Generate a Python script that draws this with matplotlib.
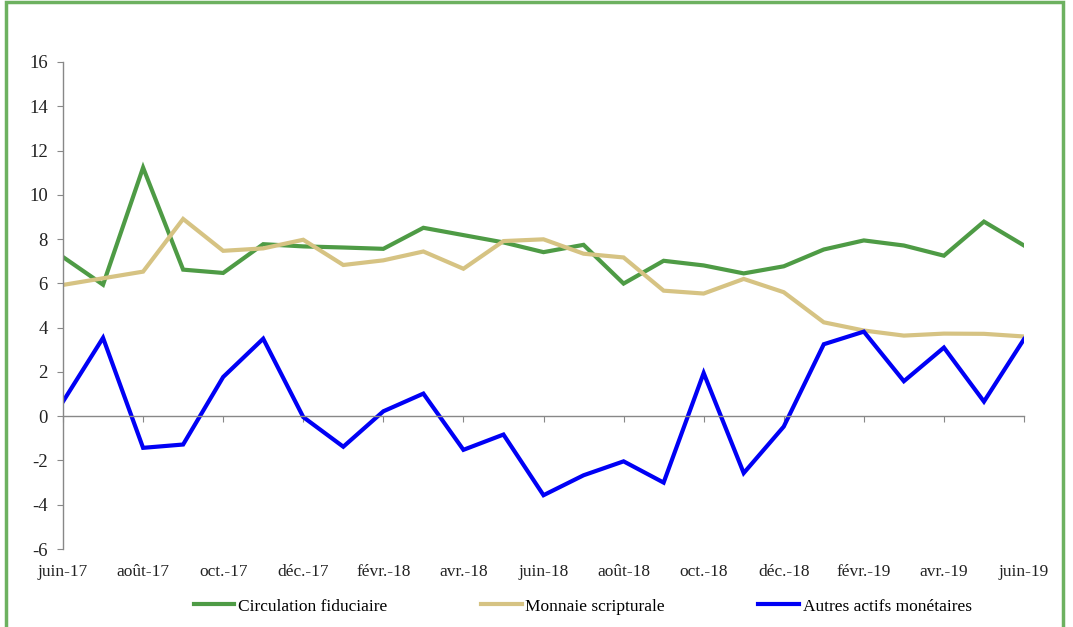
import matplotlib
matplotlib.use("Agg")
import matplotlib.pyplot as plt
import matplotlib.patches as mpatches
import matplotlib.transforms as mtransforms
import numpy as np

# Monthly data, juin-17 .. juin-19 (year-on-year growth, %)
months = ["juin-17", "juil.-17", "août-17", "sept.-17", "oct.-17", "nov.-17",
          "déc.-17", "janv.-18", "févr.-18", "mars-18", "avr.-18", "mai-18",
          "juin-18", "juil.-18", "août-18", "sept.-18", "oct.-18", "nov.-18",
          "déc.-18", "janv.-19", "févr.-19", "mars-19", "avr.-19", "mai-19",
          "juin-19"]
circulation = [7.19, 5.94, 11.23, 6.62, 6.47, 7.77, 7.67, 7.62, 7.56, 8.51,
               8.18, 7.85, 7.41, 7.74, 5.99, 7.02, 6.81, 6.45, 6.77, 7.53,
               7.94, 7.71, 7.25, 8.79, 7.71]
scripturale = [5.93, 6.23, 6.53, 8.91, 7.47, 7.58, 7.97, 6.83, 7.04, 7.44,
               6.66, 7.91, 7.99, 7.34, 7.17, 5.67, 5.54, 6.20, 5.60, 4.24,
               3.87, 3.64, 3.73, 3.72, 3.60]
autres = [0.66, 3.54, -1.43, -1.28, 1.77, 3.50, -0.04, -1.38, 0.22, 1.02,
          -1.52, -0.83, -3.57, -2.67, -2.04, -3.00, 1.95, -2.57, -0.47, 3.25,
          3.82, 1.58, 3.10, 0.66, 3.48]
yticks = list(range(-6, 17, 2))

plt.rcParams['font.family'] = ['Liberation Serif', 'DejaVu Serif']

fig = plt.figure(figsize=(10.73, 6.27), dpi=100)
ax = fig.add_axes([63 / 1073, 1 - 549 / 627, (1024 - 63) / 1073, (549 - 62) / 627])

x = np.arange(len(months))
ax.plot(x, circulation, color="#4E9B45", lw=3, label="Circulation fiduciaire", solid_joinstyle="miter")
ax.plot(x, scripturale, color="#D6C383", lw=3, label="Monnaie scripturale", solid_joinstyle="miter")
ax.plot(x, autres, color="#0000F5", lw=3, label="Autres actifs monétaires", solid_joinstyle="miter")

ax.set_xlim(0, len(months) - 1)
ax.set_ylim(-6, 16)
ax.set_yticks(yticks)
ax.set_yticklabels([str(v) for v in yticks])

# axis look: left spine + zero line with month ticks
for s in ["top", "right"]:
    ax.spines[s].set_visible(False)
ax.spines["left"].set_color("#888888")
ax.spines["bottom"].set_color("#888888")
ax.spines["bottom"].set_position(("data", 0))
ax.spines["left"].set_linewidth(1)
ax.spines["bottom"].set_linewidth(1)
ax.set_xticks(x[::2])
ax.tick_params(axis="x", direction="out", length=4, color="#888888", labelbottom=False)
ax.tick_params(axis="y", direction="out", length=4, color="#888888", labelsize=13.5, pad=7,
               labelcolor="#222222")

# month labels at the bottom of the plot area
trans = mtransforms.blended_transform_factory(ax.transData, ax.transAxes)
for i in x[::2]:
    ax.text(i, -0.03, months[i], transform=trans, ha="center", va="top",
            fontsize=12.5, color="#222222")

fig.legend(loc="lower center", bbox_to_anchor=(0.543, -0.005), ncol=3, frameon=False,
           fontsize=12.5, handlelength=2.35, handletextpad=0.2, columnspacing=5.4)

# green frame around the figure
frame = mpatches.Rectangle((6 / 1073, -0.05), (1063 - 6) / 1073, 1.05 - 2 / 627,
                           transform=fig.transFigure, fill=False,
                           edgecolor="#6DB160", linewidth=2.5, clip_on=False)
fig.patches.append(frame)

fig.savefig("out.png", dpi=100)
